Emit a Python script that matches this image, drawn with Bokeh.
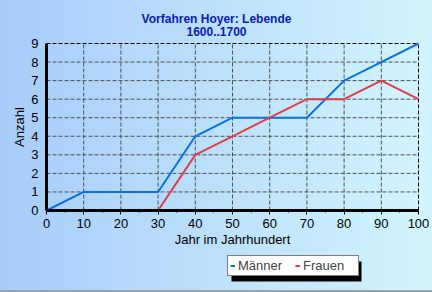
from bokeh.plotting import figure
from bokeh.models import Legend, LegendItem, Label, BoxAnnotation, Range1d, FixedTicker
from bokeh.embed import file_html
from bokeh.resources import INLINE

years = [0, 10, 20, 30, 40, 50, 60, 70, 80, 90, 100]
maenner = [0, 1, 1, 1, 4, 5, 5, 5, 7, 8, 9]
frauen_x = [30, 40, 50, 60, 70, 80, 90, 100]
frauen = [0, 3, 4, 5, 6, 6, 7, 6]
x_ticks = [0, 10, 20, 30, 40, 50, 60, 70, 80, 90, 100]
y_ticks = [0, 1, 2, 3, 4, 5, 6, 7, 8, 9]
title1 = "Vorfahren Hoyer: Lebende"
title2 = "1600..1700"

FONT = "Liberation Sans"
W, H = 432, 292
# plot area in pixels: left 46, right 418, top 43, bottom 210
L, R, T, B = 46, 418, 43, 210
xs = (R - L) / 100.0
ys = (B - T) / 9.0

p = figure(width=W, height=H, output_backend="svg", toolbar_location=None,
           x_range=Range1d(-L / xs, 100 + (W - R) / xs),
           y_range=Range1d(-(H - B) / ys, 9 + T / ys),
           min_border=0)
p.title.visible = False
p.styles = {"background": "linear-gradient(to right, #a6ccf9, #d2f5fd)",
            "box-shadow": "inset 0 -2px 0 #9aa4ac"}
p.border_fill_alpha = 0
p.background_fill_alpha = 0
p.outline_line_color = None
p.xgrid.visible = False
p.ygrid.visible = False

xmin, xmax = x_ticks[0], x_ticks[-1]
ymin, ymax = y_ticks[0], y_ticks[-1]
# grid lines
p.segment(x0=x_ticks[1:-1], y0=[ymin] * (len(x_ticks) - 2), x1=x_ticks[1:-1], y1=[ymax] * (len(x_ticks) - 2),
          line_color="#505050", line_dash="4 2", line_width=1)
p.segment(x0=[xmin] * (len(y_ticks) - 2), y0=y_ticks[1:-1], x1=[xmax] * (len(y_ticks) - 2), y1=y_ticks[1:-1],
          line_color="#505050", line_dash="4 2", line_width=1)
# top / right border
p.segment(x0=[xmin, xmax], y0=[ymax, ymin], x1=[xmax, xmax], y1=[ymax, ymax],
          line_color="black", line_dash="4 2", line_width=1)

mline = p.line(years, maenner, line_color="#0a72e0", line_width=2)
fline = p.line(frauen_x, frauen, line_color="#e23c48", line_width=2)

p.xaxis.ticker = FixedTicker(ticks=x_ticks, minor_ticks=list(range(0, 101, 5)))
p.yaxis.ticker = FixedTicker(ticks=y_ticks)
p.xaxis.fixed_location = 0
p.yaxis.fixed_location = 0
p.xaxis.bounds = (xmin, xmax)
p.yaxis.bounds = (ymin, ymax)
for ax in (p.xaxis[0], p.yaxis[0]):
    ax.axis_line_color = "black"
    ax.axis_line_width = 3
    ax.major_label_text_font = FONT
    ax.major_label_text_font_size = "13px"
    ax.major_label_text_color = "black"
    ax.axis_label_text_font = FONT
    ax.axis_label_text_font_size = "13px"
    ax.axis_label_text_font_style = "normal"
    ax.axis_label_text_color = "black"
p.xaxis.axis_label = "Jahr im Jahrhundert"
p.yaxis.axis_label = "Anzahl"
p.xaxis.major_tick_out = 4
p.xaxis.major_tick_in = 0
p.xaxis.minor_tick_out = 2
p.xaxis.minor_tick_in = 0
p.xaxis.major_tick_line_color = "black"
p.xaxis.minor_tick_line_color = "black"
p.xaxis.major_label_standoff = 4
p.xaxis.axis_label_standoff = 1
p.yaxis.major_tick_line_color = None
p.yaxis.minor_tick_line_color = None
p.yaxis.major_label_standoff = 2
p.yaxis.axis_label_standoff = 1

for txt, y in ((title1, H - 18), (title2, H - 31)):
    p.add_layout(Label(x=W / 2, y=y, x_units="screen", y_units="screen", text=txt,
                       text_align="center", text_baseline="middle",
                       text_font=FONT, text_font_size="12px", text_font_style="bold",
                       text_color="#0a1cb8"))

shadow = BoxAnnotation(left=231, right=361, bottom=H - 281, top=H - 261,
                       left_units="screen", right_units="screen",
                       bottom_units="screen", top_units="screen",
                       fill_color="black", fill_alpha=1, line_color=None)
p.add_layout(shadow)

legend = Legend(items=[LegendItem(label="Männer", renderers=[mline]),
                       LegendItem(label="Frauen", renderers=[fline])],
                orientation="horizontal", location=(227, H - 276),
                label_text_font=FONT, label_text_font_size="13px",
                glyph_width=5, glyph_height=13, label_standoff=3, spacing=4,
                padding=2, margin=0, label_height=15, label_width=53,
                border_line_color="black", border_line_width=1,
                background_fill_color="white", background_fill_alpha=1)
p.add_layout(legend, "center")

open("out.html", "w").write(file_html(p, INLINE))
